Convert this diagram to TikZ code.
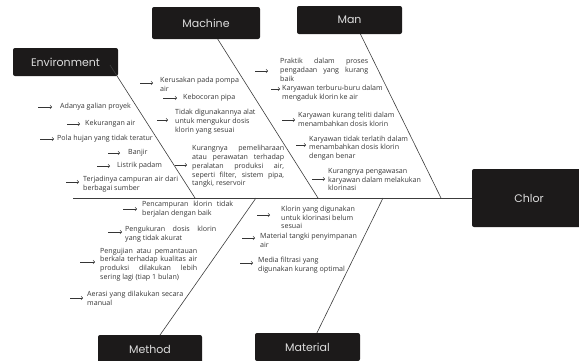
\documentclass[tikz,border=0pt]{standalone}
\usepackage{fontspec}
\setmainfont{Open Sans}
\newfontfamily\labelfont{Poppins}
\usetikzlibrary{arrows.meta}
\definecolor{boxfill}{HTML}{1C1A1A}
\definecolor{labeltext}{HTML}{DDDDDD}
\definecolor{bodytext}{HTML}{353535}
\definecolor{linegray}{HTML}{3C3C3C}
\newcommand\jl[2]{\makebox[#1][s]{#2}}
\newcommand\causeitem[7]{%
  \node[causetext] (#1) at (#2,#3) {#7};
  \coordinate (#1-a) at (#4,#6);
  \pgfmathsetmacro\gapv{#2-#5}
  \draw[arr, shorten >=\gapv pt] (#1-a) -- (#1-a -| #1.west);
}
\begin{document}
\begin{tikzpicture}[x=1pt,y=-1pt,
  catbox/.style={fill=boxfill, rounded corners=2pt, inner sep=0pt, text=labeltext,
    font=\labelfont\fontsize{11}{13}\selectfont},
  causetext/.style={inner sep=0pt, anchor=west, align=left, text=bodytext,
    font=\fontsize{7.1}{8.8}\selectfont},
  arr/.style={draw=bodytext, line width=0.45pt, -{Straight Barb[length=1.7pt,width=3.8pt]}},
  bone/.style={draw=linegray, line width=0.6pt}]
\useasboundingbox (0,0) rectangle (579,360);
\clip (0,0) rectangle (579,360);

% spine junctions
\coordinate (sL) at (73,198);
\coordinate (jEnv) at (195,198);
\coordinate (jMac) at (318,198);
\coordinate (jMan) at (441,198);
\coordinate (jMet) at (256,198);
\coordinate (jMat) at (383,198);
\coordinate (envT) at (110,65);
\coordinate (macT) at (212,30);
\coordinate (manT) at (356,25);
\coordinate (metB) at (153,345);
\coordinate (matB) at (311,345);

\draw[bone] (macT) -- (jMac);
\draw[bone] (manT) -- (jMan);
\draw[bone] (metB) -- (jMet);
\draw[bone] (matB) -- (jMat);

% category boxes
\node[catbox, minimum width=105pt, minimum height=28pt] (env) at (65.5,62) {Environment};
\node[catbox, minimum width=108pt, minimum height=32pt] (mac) at (206,23) {Machine};
\node[catbox, minimum width=105pt, minimum height=28pt] (man) at (349.5,20) {Man};
\node[catbox, minimum width=114pt, minimum height=58pt] (chlor) at (529,198) {Chlor};
\node[catbox, minimum width=104pt, minimum height=28pt] (met) at (150,349) {Method};
\node[catbox, minimum width=105pt, minimum height=28pt] (mat) at (307.5,347) {Material};

\draw[bone] (sL) -- (chlor.west);
\draw[bone] (envT) -- (jEnv);

% Environment causes
\causeitem{e1}{60}{107}{38}{52}{107}{Adanya galian proyek}
\causeitem{e2}{85}{124}{67}{80}{124}{Kekurangan air}
\causeitem{e3}{57}{139}{40}{54}{139}{Pola hujan yang tidak teratur}
\causeitem{e4}{128}{153}{108}{120}{153}{Banjir}
\causeitem{e5}{117}{166}{97}{110}{166}{Listrik padam}
\causeitem{e6}{83}{184}{66}{79}{182}{Terjadinya campuran air dari\\berbagai sumber}

% Machine causes
\causeitem{m1}{160}{84.5}{140}{153}{83}{Kerusakan pada pompa\\air}
\causeitem{m2}{183}{98}{163}{177}{98}{Kebocoran pipa}
\causeitem{m3}{175}{121.5}{157}{168}{120}{Tidak digunakannya alat\\untuk mengukur dosis\\klorin yang sesuai}
\causeitem{m4}{192}{166.5}{175}{187}{165}{\jl{92pt}{Kurangnya pemeliharaan}\\\jl{92pt}{atau perawatan terhadap}\\\jl{92pt}{peralatan produksi air,}\\\jl{92pt}{seperti filter, sistem pipa,}\\tangki, reservoir}

% Man causes
\causeitem{n1}{280}{70}{255}{268}{71}{\jl{88pt}{Praktik dalam proses}\\\jl{88pt}{pengadaan yang kurang}\\baik}
\causeitem{n2}{282}{93.5}{271}{280}{89}{Karyawan terburu-buru dalam\\mengaduk klorin ke air}
\causeitem{n3}{298}{119.5}{282}{295}{120}{Karyawan kurang teliti dalam\\menambahkan dosis klorin}
\causeitem{n4}{309}{148}{296}{306}{145}{Karyawan tidak terlatih dalam\\menambahkan dosis klorin\\dengan benar}
\causeitem{n5}{328}{179.5}{312}{325}{179}{Kurangnya pengawasan\\karyawan dalam melakukan\\klorinasi}

% Method causes
\causeitem{d1}{142}{209.5}{123}{137}{209}{\jl{91pt}{Pencampuran klorin tidak}\\berjalan dengan baik}
\causeitem{d2}{125}{234.5}{108}{122}{232}{\jl{91pt}{Pengukuran dosis klorin}\\yang tidak akurat}
\causeitem{d3}{100}{264.5}{80}{95}{262}{\jl{97pt}{Pengujian atau pemantauan}\\\jl{97pt}{berkala terhadap kualitas air}\\\jl{97pt}{produksi dilakukan lebih}\\sering lagi (tiap 1 bulan)}
\causeitem{d4}{87}{298.5}{70}{83}{298}{\jl{96pt}{Aerasi yang dilakukan secara}\\manual}

% Material causes
\causeitem{t1}{281}{217.5}{257}{270}{215}{Klorin yang digunakan\\untuk klorinasi belum\\sesuai}
\causeitem{t2}{260}{240.5}{242}{255}{238}{Material tangki penyimpanan\\air}
\causeitem{t3}{258}{265}{240}{253}{263}{Media filtrasi yang\\digunakan kurang optimal}
\end{tikzpicture}
\end{document}
